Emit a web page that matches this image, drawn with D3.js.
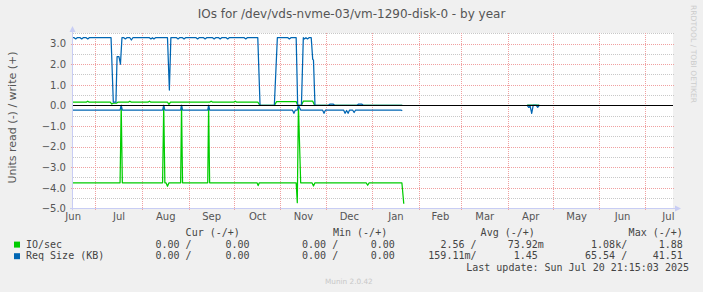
<!DOCTYPE html>
<html><head><meta charset="utf-8">
<script src="https://cdn.jsdelivr.net/npm/d3@7"></script>
<style>
html,body{margin:0;padding:0;background:#f0f0f0;}
svg{display:block;}
text{font-family:"DejaVu Sans",sans-serif;}
.mono{font-family:"DejaVu Sans Mono",monospace;white-space:pre;}
</style></head><body>
<svg id="c" width="703" height="292"></svg>
<script>
// ---------- data ----------
const chartTitle = "IOs for /dev/vds-nvme-03/vm-1290-disk-0 - by year";
const yTitle = "Units read (-) / write (+)";
const yTicks = [-5, -4, -3, -2, -1, 0, 1, 2, 3];
const monthTicks = ["2024-06","2024-07","2024-08","2024-09","2024-10","2024-11","2024-12","2025-01","2025-02","2025-03","2025-04","2025-05","2025-06","2025-07"];
const monthLabels = ["Jun","Jul","Aug","Sep","Oct","Nov","Dec","Jan","Feb","Mar","Apr","May","Jun","Jul"];
const timeDomain = ["2024-06-15T21:15:00Z", "2025-07-20T21:15:00Z"];

// IO/sec write (+)
const ioWrite = [
  ["2024-06-16",0.15],["2024-06-25",0.15],["2024-06-26",0.2],["2024-06-27",0.15],
  ["2024-07-11",0.15],["2024-07-12",0.06],["2024-07-13",0.1],["2024-07-15",0.1],["2024-07-16",0.15],
  ["2024-07-23",0.15],["2024-07-24",0.2],["2024-07-25",0.15],
  ["2024-08-05",0.15],["2024-08-06",0.2],["2024-08-07",0.15],
  ["2024-08-18",0.15],["2024-08-19",0.05],["2024-08-20",0.15],
  ["2024-09-15",0.15],["2024-09-16",0.2],["2024-09-17",0.15],
  ["2024-10-01",0.15],["2024-10-02",0.2],["2024-10-03",0.15],
  ["2024-10-17",0.15],["2024-10-18T12",0.0],
  ["2024-10-28",0.0],["2024-10-29T12",0.18],
  ["2024-11-11T12",0.18],["2024-11-12T12",0.0],
  ["2024-11-15",0.0],["2024-11-16T06",0.2],
  ["2024-11-22T12",0.2],["2024-11-23T18",0.0],
  ["2025-01-21",0.0],["2025-01-22",null],
  ["2025-04-14",0.0],["2025-04-22",0.0],["2025-04-23",null]
];
// IO/sec read (-), magnitudes
const ioRead = [
  ["2024-06-16",3.76],["2024-07-17T12",3.76],["2024-07-18T06",0.0],["2024-07-19",3.76],
  ["2024-08-14T18",3.76],["2024-08-15T12",0.0],["2024-08-16T06",3.76],
  ["2024-08-17",3.76],["2024-08-18",3.93],["2024-08-19",3.76],
  ["2024-08-26T18",3.76],["2024-08-27T08",0.0],["2024-08-28",3.76],
  ["2024-09-13T18",3.76],["2024-09-14T08",0.0],["2024-09-15",3.76],
  ["2024-10-16T12",3.76],["2024-10-17T06",3.9],["2024-10-18",3.76],
  ["2024-11-11T12",3.76],["2024-11-12T06",4.73],["2024-11-13",0.0],["2024-11-14T12",3.76],
  ["2024-11-22",3.76],["2024-11-23",3.92],["2024-11-24",3.76],
  ["2024-12-28",3.76],["2024-12-29",3.88],["2024-12-30",3.76],
  ["2025-01-20T18",3.76],["2025-01-22",4.78],["2025-01-22T06",null],
  ["2025-04-14",0.0],["2025-04-22",0.0],["2025-04-23",null]
];
// Req Size (KB) write (+)
const reqWrite = [
  ["2024-06-16",3.28],["2024-06-17",3.28],["2024-06-18",3.22],["2024-06-19",3.28],
  ["2024-06-21",3.28],["2024-06-22",3.22],["2024-06-23",3.28],["2024-06-25",3.28],["2024-06-26",3.22],["2024-06-27",3.28],
  ["2024-07-11T12",3.28],["2024-07-13",0.15],["2024-07-14T18",0.15],["2024-07-15T12",2.36],
  ["2024-07-16T18",2.36],["2024-07-17T18",2.0],["2024-07-18T18",3.28],
  ["2024-07-20",3.28],["2024-07-21",3.22],["2024-07-22",3.28],
  ["2024-07-24",3.28],["2024-07-25",3.17],["2024-07-26",3.28],
  ["2024-08-06",3.28],["2024-08-07",3.22],["2024-08-08",3.28],["2024-08-09",3.22],["2024-08-10",3.28],
  ["2024-08-18",3.28],["2024-08-19T06",0.74],["2024-08-20T06",3.28],
  ["2024-08-24",3.28],["2024-08-25",3.22],["2024-08-26",3.28],["2024-08-28",3.28],["2024-08-29",3.22],["2024-08-30",3.28],
  ["2024-09-06",3.28],["2024-09-07",3.22],["2024-09-08",3.28],["2024-09-11",3.28],["2024-09-12",3.22],["2024-09-13",3.28],
  ["2024-09-17",3.28],["2024-09-18",3.22],["2024-09-19",3.28],["2024-09-21",3.28],["2024-09-22",3.22],["2024-09-23",3.28],
  ["2024-09-26",3.28],["2024-09-27",3.22],["2024-09-28",3.28],["2024-10-08",3.28],["2024-10-09",3.22],["2024-10-10",3.28],
  ["2024-10-17",3.28],["2024-10-18T12",0.0],["2024-10-28",0.0],["2024-10-30",3.28],
  ["2024-11-06",3.28],["2024-11-07",3.22],["2024-11-08",3.28],
  ["2024-11-11T12",3.28],["2024-11-12T12",0.0],["2024-11-15",0.0],["2024-11-16T06",3.28],
  ["2024-11-17",3.22],["2024-11-18",3.28],["2024-11-19",3.22],["2024-11-20",3.28],
  ["2024-11-21T12",3.28],["2024-11-22T12",2.23],["2024-11-23",2.2],["2024-11-24",0.0],
  ["2024-12-03",0.0],["2024-12-04",0.06],["2024-12-06",0.06],["2024-12-07",0.0],
  ["2024-12-22",0.0],["2024-12-23",0.06],["2024-12-25",0.06],["2024-12-26",0.0],
  ["2025-01-21",0.0],["2025-01-22",null],
  ["2025-04-14",0.0],["2025-04-22",0.0],["2025-04-23",null]
];
// Req Size (KB) read (-), magnitudes
const reqRead = [
  ["2024-06-16",0.23],["2024-07-17T12",0.23],["2024-07-18T06",0.0],["2024-07-19",0.23],
  ["2024-08-14T18",0.23],["2024-08-15T12",0.0],["2024-08-16T06",0.23],
  ["2024-08-26T18",0.23],["2024-08-27T08",0.0],["2024-08-28",0.23],
  ["2024-09-13T18",0.23],["2024-09-14T08",0.0],["2024-09-15",0.23],
  ["2024-11-09",0.23],["2024-11-10",0.39],["2024-11-11",0.23],
  ["2024-11-12T06",0.23],["2024-11-13",0.0],["2024-11-14T12",0.23],
  ["2024-11-29",0.23],["2024-11-30",0.39],["2024-12-01",0.23],
  ["2024-12-13",0.23],["2024-12-14",0.39],["2024-12-15",0.25],["2024-12-16",0.39],["2024-12-17",0.23],
  ["2024-12-19",0.23],["2024-12-20",0.35],["2024-12-21",0.23],
  ["2025-01-20",0.23],["2025-01-21",0.26],["2025-01-21T06",null],
  ["2025-04-14",0.0],["2025-04-15",0.1],["2025-04-16",0.05],["2025-04-17",0.39],["2025-04-18",0.0],
  ["2025-04-20",0.0],["2025-04-21",0.1],["2025-04-22",0.0],["2025-04-23",null]
];

const seriesNames = ["IO/sec", "Req Size (KB)"];
const seriesColors = ["#00cc00", "#0066b3"];
const legendHeaders = ["Cur (-/+)", "Min (-/+)", "Avg (-/+)", "Max (-/+)"];
const ioStats  = ["0.00 /", "0.00", "0.00 /", "0.00", "2.56 /", "73.92m", "1.08k/", "1.88"];
const reqStats = ["0.00 /", "0.00", "0.00 /", "0.00", "159.11m/", "1.45 ", "65.54 /", "41.51"];
const lastUpdate = "Last update: Sun Jul 20 21:15:03 2025";
const vendorText = "RRDTOOL / TOBI OETIKER";
const versionText = "Munin 2.0.42";

// ---------- drawing ----------
const parseT = s => new Date(s.length === 10 ? s + "T00:00:00Z" : (s.length === 13 ? s + ":00:00Z" : s));
const svg = d3.select("#c");
const L = 73, R = 673, T = 33, B = 208.3;

const x = d3.scaleUtc().domain(timeDomain.map(parseT)).range([72.5, 674.5]);
const y = d3.scaleLinear().domain([-5, 3.5]).range([B, 33.2]);

svg.append("rect").attr("x", L).attr("y", T).attr("width", R - L).attr("height", B - T).attr("fill", "#ffffff");

// minor horizontal grid
const minorY = d3.range(-4.5, 3.6, 1);
svg.append("g").selectAll("line").data(minorY).join("line")
  .attr("x1", L).attr("x2", R + 2)
  .attr("y1", d => Math.round(y(d)) + 0.5).attr("y2", d => Math.round(y(d)) + 0.5)
  .attr("stroke", "#c8c8c8").attr("stroke-dasharray", "1,1").attr("stroke-width", 1);

// major horizontal grid
svg.append("g").selectAll("line").data(yTicks.filter(d => d !== 0 && d !== -5)).join("line")
  .attr("x1", L - 2).attr("x2", R + 2)
  .attr("y1", d => Math.round(y(d)) + 0.5).attr("y2", d => Math.round(y(d)) + 0.5)
  .attr("stroke", "#f0a0a0").attr("stroke-dasharray", "1,1").attr("stroke-width", 1);

// month grid (vertical)
const monthStarts = d3.utcMonth.range(parseT("2024-07-01"), parseT("2025-07-02"));
svg.append("g").selectAll("line").data(monthStarts).join("line")
  .attr("x1", d => Math.round(x(d)) + 0.5).attr("x2", d => Math.round(x(d)) + 0.5)
  .attr("y1", T).attr("y2", B + 2)
  .attr("stroke", "#f0a0a0").attr("stroke-dasharray", "1,1").attr("stroke-width", 1);

// series
svg.append("clipPath").attr("id", "clip").append("rect")
  .attr("x", L).attr("y", T).attr("width", R - L).attr("height", B - T);
const plot = svg.append("g").attr("clip-path", "url(#clip)");
function drawSeries(data, sign, color) {
  const line = d3.line()
    .defined(d => d[1] != null)
    .x(d => x(parseT(d[0])))
    .y(d => y(sign * d[1]));
  plot.append("path").attr("d", line(data)).attr("fill", "none")
    .attr("stroke", color).attr("stroke-width", 1.25).attr("stroke-linejoin", "round");
}
drawSeries(ioRead, -1, seriesColors[0]);
drawSeries(ioWrite, 1, seriesColors[0]);
drawSeries(reqRead, -1, seriesColors[1]);
drawSeries(reqWrite, 1, seriesColors[1]);

// zero line
svg.append("line").attr("x1", L).attr("x2", R)
  .attr("y1", Math.round(y(0)) + 0.5).attr("y2", Math.round(y(0)) + 0.5)
  .attr("stroke", "#000").attr("stroke-width", 1);

// axes lines + arrows
const axisColor = "#c8cdf4";
svg.append("line").attr("x1", 72.5).attr("x2", 72.5).attr("y1", B + 2).attr("y2", 29).attr("stroke", axisColor);
svg.append("path").attr("d", "M69.5,32 L75.5,32 L72.5,26 Z").attr("fill", axisColor);
svg.append("line").attr("x1", 70).attr("x2", 677).attr("y1", Math.round(B) + 0.5).attr("y2", Math.round(B) + 0.5).attr("stroke", axisColor);
svg.append("path").attr("d", `M675,${Math.round(B)-2.5} L681,${Math.round(B)+0.5} L675,${Math.round(B)+3.5} Z`).attr("fill", axisColor);

// y axis labels (via d3 axis)
const yAxis = d3.axisLeft(y).tickValues(yTicks).tickFormat(d3.format(".1f")).tickSize(0).tickPadding(0);
const gy = svg.append("g").attr("transform", "translate(66,0)").call(yAxis);
gy.select(".domain").remove();
gy.selectAll("text").attr("font-family", "DejaVu Sans").attr("font-size", 10).attr("fill", "#555").attr("dy", "0.33em");

// x axis labels (month midpoints)
const monthMid = monthTicks.map(m => {
  const s = parseT(m + "-01");
  const e = d3.utcMonth.offset(s, 1);
  return new Date((+s + +e) / 2);
});
const xAxis = d3.axisBottom(x).tickValues(monthMid).tickFormat((d, i) => monthLabels[i]).tickSize(0).tickPadding(0);
const gx = svg.append("g").attr("transform", "translate(0,212.5)").call(xAxis);
gx.select(".domain").remove();
gx.selectAll("text").attr("font-family", "DejaVu Sans").attr("font-size", 10).attr("fill", "#555");

// title
svg.append("text").attr("x", 351.5).attr("y", 18).attr("text-anchor", "middle")
  .attr("font-size", 12).attr("fill", "#555").text(chartTitle);
// y title
svg.append("text").attr("transform", "translate(15.5,117.5) rotate(-90)").attr("text-anchor", "middle")
  .attr("font-size", 11).attr("fill", "#555").text(yTitle);
// vendor
svg.append("text").attr("transform", "translate(690.5,54) rotate(90)").attr("text-anchor", "middle")
  .attr("font-size", 7.5).attr("fill", "#cccccc").attr("textLength", 98).attr("lengthAdjust", "spacingAndGlyphs").text(vendorText);
svg.append("text").attr("x", 325).attr("y", 283.5).attr("font-size", 7.3).attr("fill", "#c8c8c8").text(versionText);

// legend
const headerEnds = [239.8, 387.2, 534.8, 682.8];
const colEnds = [191.5, 249.5, 338.2, 394.8, 476.5, 543.8, 627.2, 682.8];
const lg = svg.append("g").attr("font-size", 10).attr("fill", "#444");
legendHeaders.forEach((h, i) => lg.append("text").attr("class", "mono").attr("x", headerEnds[i]).attr("y", 235.8).attr("text-anchor", "end").text(h));
[ioStats, reqStats].forEach((row, r) => {
  const yy = 247.8 + r * 11.6;
  lg.append("rect").attr("x", 14).attr("y", yy - 6.2).attr("width", 6).attr("height", 6).attr("fill", seriesColors[r]);
  lg.append("text").attr("class", "mono").attr("x", 26).attr("y", yy).text(seriesNames[r]);
  row.forEach((v, i) => lg.append("text").attr("class", "mono").attr("x", colEnds[i]).attr("y", yy).attr("text-anchor", "end").text(v));
});
lg.append("text").attr("class", "mono").attr("x", 689).attr("y", 271).attr("text-anchor", "end").text(lastUpdate);
</script>
</body></html>
